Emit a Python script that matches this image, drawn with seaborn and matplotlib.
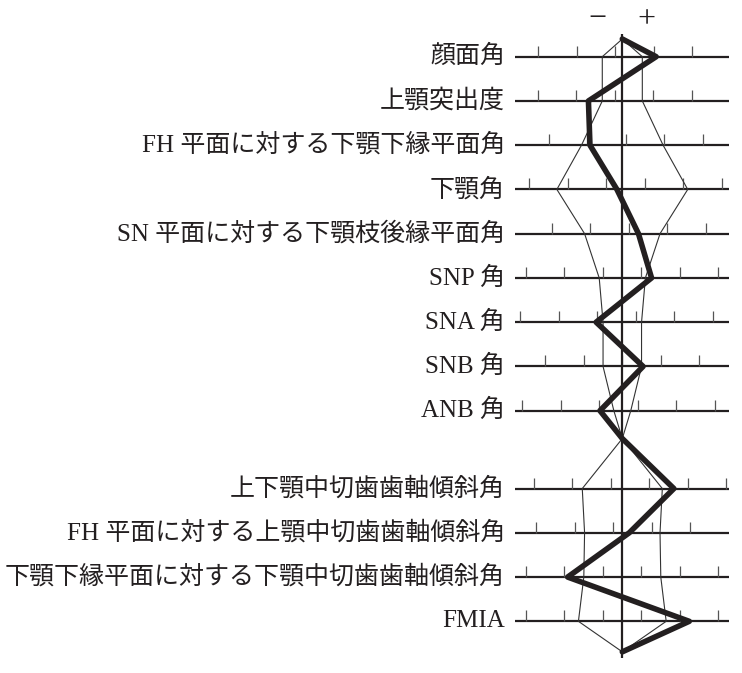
import numpy as np
import pandas as pd
import matplotlib
matplotlib.use("Agg")
import matplotlib.pyplot as plt
import seaborn as sns

# measurement names (top to bottom)
labels = ['顔面角', '上顎突出度', 'FH 平面に対する下顎下縁平面角', '下顎角',
          'SN 平面に対する下顎枝後縁平面角', 'SNP 角', 'SNA 角', 'SNB 角', 'ANB 角',
          '上下顎中切歯歯軸傾斜角', 'FH 平面に対する上顎中切歯歯軸傾斜角',
          '下顎下縁平面に対する下顎中切歯歯軸傾斜角', 'FMIA']
# half width of the norm band (deg, relative to the mean)
sd = [2.6, 2.6, 5.3, 8.5, 4.9, 3.0, 2.5, 2.5, 1.1, 5.2, 4.9, 5.0, 5.7]
# patient deviation from the mean (deg)
patient = [4.4, -4.4, -4.2, -0.7, 2.1, 3.8, -3.4, 2.7, -2.9, 6.7, 0.9, -7.1, 8.7]
# where a 5 deg tick falls, relative to the mean of each row
tick_phase = [-0.93, -1.0, 0.47, 2.94, 0.82, 2.48, 1.77, 0.0, 2.0, 3.5, 3.85, 2.48, 2.48]
tick_step = 5.0

# layout
GAP = 0.76          # extra space between skeletal and dental groups
TOP_NODE = -0.40
GAP_NODE = 8.63
BOT_NODE = 13.45
XLIM = 13.9

ypos = np.arange(len(labels), dtype=float)
ypos[9:] += GAP

def polygon(vals):
    xs = [0.0] + list(vals[:9]) + [0.0] + list(vals[9:]) + [0.0]
    ys = [TOP_NODE] + list(ypos[:9]) + [GAP_NODE] + list(ypos[9:]) + [BOT_NODE]
    return pd.DataFrame({'dev': xs, 'pos': ys})

sd_arr = np.array(sd)
df_lo = polygon(-sd_arr)
df_hi = polygon(sd_arr)
df_pt = polygon(np.array(patient))

sns.set_theme(style='white')
plt.rcParams['font.family'] = ['Liberation Serif', 'Noto Sans CJK JP', 'DejaVu Sans']

fig = plt.figure(figsize=(7.42, 6.73), dpi=100)
ax = fig.add_axes([515.3 / 742, 0, 214 / 742, 1])

line_col = '#231f20'

# row axes and their 5 deg ticks
ax.hlines(ypos, -XLIM, XLIM, color=line_col, lw=1.6, zorder=1)
for y, ph in zip(ypos, tick_phase):
    k = np.arange(-4, 5)
    t = ph + k * tick_step
    t = t[np.abs(t) <= 13.5]
    ax.vlines(t, y - 0.25, y, color='#555555', lw=0.9, zorder=1)

# mean line
ax.vlines(0, -0.51, 13.58, color=line_col, lw=1.6, zorder=2)

# norm band and patient polygon
for d in (df_lo, df_hi):
    sns.lineplot(data=d, x='dev', y='pos', sort=False, estimator=None,
                 color='#333333', lw=0.8, ax=ax, zorder=3)
sns.lineplot(data=df_pt, x='dev', y='pos', sort=False, estimator=None,
             color=line_col, lw=4.0, ax=ax, zorder=4)

for y, lab in zip(ypos, labels):
    ax.text(-15.23, y, lab, ha='right', va='center', fontsize=18,
            color='#231f20', clip_on=False)

ax.text(-3.25, -0.83, '−', ha='center', va='center', fontsize=23, color='#231f20')
ax.text(3.2, -0.83, '+', ha='center', va='center', fontsize=23, color='#231f20')

ax.set_xlim(-XLIM, XLIM)
ax.set_ylim(13.928, -1.281)
ax.set_axis_off()

fig.savefig('out.png', dpi=100)
